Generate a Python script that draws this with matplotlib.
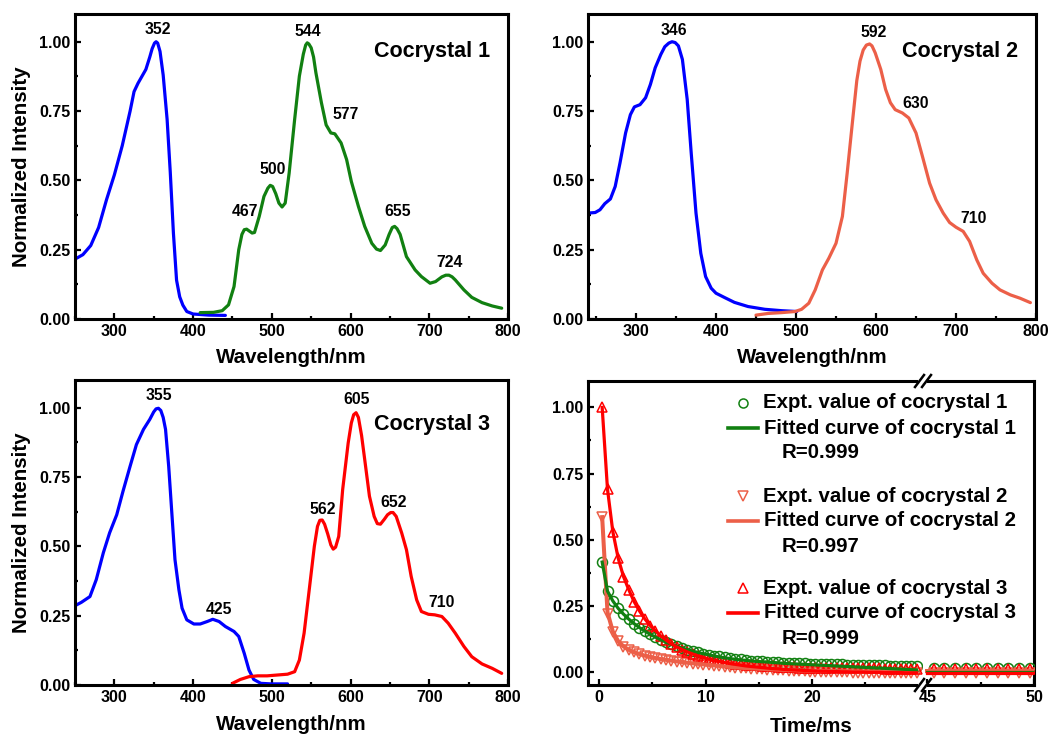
import numpy as np
import matplotlib
matplotlib.use("Agg")
import matplotlib.pyplot as plt
from matplotlib.lines import Line2D
from matplotlib.patches import Rectangle
from matplotlib.ticker import MultipleLocator, FixedLocator, FormatStrFormatter

plt.rcParams['font.family'] = ['Liberation Sans', 'DejaVu Sans']
plt.rcParams['font.weight'] = 'bold'
plt.rcParams['axes.labelweight'] = 'bold'

# ---------------- data ----------------
# Cocrystal 1
abs1_wl = [250, 260, 270, 280, 290, 300, 310, 320, 325, 330, 335, 340, 345, 348, 351, 353, 355,
           358, 362, 367, 371, 375, 379, 383, 387, 392, 400, 420, 441]
abs1_int = [0.216, 0.232, 0.265, 0.33, 0.43, 0.52, 0.625, 0.75, 0.82, 0.85, 0.875, 0.90, 0.945,
            0.975, 0.995, 1.0, 0.995, 0.965, 0.88, 0.72, 0.53, 0.31, 0.14, 0.08, 0.05, 0.027,
            0.018, 0.014, 0.013]
em1_wl = [409, 426, 437, 445, 452, 458, 462, 465, 468, 471, 475, 478, 484, 490, 495, 498, 501,
          505, 509, 513, 517, 522, 529, 535, 540, 543, 545, 547, 550, 553, 556, 563, 569, 575,
          580, 588, 595, 601, 610, 618, 627, 633, 638, 644, 649, 653, 656, 659, 663, 671, 682,
          690, 701, 708, 716, 721, 725, 729, 733, 744, 754, 767, 780, 792]
em1_int = [0.023, 0.024, 0.030, 0.051, 0.117, 0.25, 0.305, 0.322, 0.324, 0.318, 0.31, 0.312,
           0.37, 0.442, 0.472, 0.482, 0.478, 0.452, 0.418, 0.404, 0.418, 0.526, 0.72, 0.876,
           0.955, 0.988, 0.996, 0.992, 0.978, 0.945, 0.888, 0.78, 0.70, 0.671, 0.668, 0.635,
           0.575, 0.496, 0.406, 0.334, 0.273, 0.252, 0.247, 0.267, 0.305, 0.33, 0.334, 0.326,
           0.305, 0.225, 0.177, 0.153, 0.129, 0.135, 0.152, 0.158, 0.158, 0.152, 0.141, 0.105,
           0.078, 0.059, 0.047, 0.039]

# Cocrystal 2
abs2_wl = [240, 249, 255, 261, 268, 274, 280, 287, 293, 298, 305, 312, 318, 324, 331, 336, 341,
           345, 349, 353, 358, 364, 369, 375, 381, 387, 394, 400, 411, 423, 440, 461, 482, 501]
abs2_int = [0.382, 0.384, 0.394, 0.416, 0.433, 0.478, 0.563, 0.671, 0.737, 0.765, 0.773, 0.798,
            0.846, 0.906, 0.954, 0.982, 0.995, 1.0, 0.997, 0.985, 0.936, 0.792, 0.599, 0.382,
            0.237, 0.153, 0.111, 0.093, 0.077, 0.060, 0.045, 0.035, 0.030, 0.027]
em2_wl = [450, 465, 482, 499, 507, 516, 524, 533, 541, 550, 558, 564, 570, 576, 580, 584, 588,
          592, 595, 599, 606, 612, 618, 624, 633, 641, 650, 658, 667, 675, 684, 692, 700, 709,
          717, 726, 734, 745, 755, 768, 780, 793]
em2_int = [0.014, 0.020, 0.023, 0.027, 0.035, 0.057, 0.105, 0.177, 0.219, 0.273, 0.37, 0.527,
           0.695, 0.86, 0.93, 0.97, 0.988, 0.992, 0.985, 0.96, 0.90, 0.828, 0.78, 0.755, 0.743,
           0.725, 0.671, 0.587, 0.49, 0.43, 0.382, 0.348, 0.331, 0.316, 0.28, 0.213, 0.165,
           0.129, 0.105, 0.087, 0.075, 0.059]

# Cocrystal 3
abs3_wl = [250, 258, 269, 277, 286, 294, 303, 311, 320, 328, 337, 345, 350, 353, 356, 359, 362,
           365, 369, 373, 377, 382, 386, 392, 401, 409, 418, 425, 433, 441, 452, 458, 465, 471,
           477, 486, 499, 520]
abs3_int = [0.286, 0.298, 0.319, 0.38, 0.477, 0.549, 0.614, 0.699, 0.789, 0.867, 0.922, 0.958,
            0.985, 0.996, 0.998, 0.99, 0.965, 0.922, 0.789, 0.62, 0.452, 0.343, 0.277, 0.235,
            0.22, 0.22, 0.229, 0.237, 0.229, 0.211, 0.193, 0.175, 0.114, 0.054, 0.020, 0.006,
            0.004, 0.004]
em3_wl = [450, 460, 471, 482, 494, 507, 520, 529, 535, 541, 548, 554, 558, 561, 564, 567, 571,
          575, 578, 581, 585, 590, 597, 601, 604, 607, 610, 614, 618, 624, 630, 634, 638, 643,
          647, 651, 654, 658, 665, 671, 677, 684, 690, 699, 707, 716, 724, 733, 744, 754, 767,
          780, 792]
em3_int = [0.006, 0.020, 0.030, 0.033, 0.033, 0.036, 0.039, 0.048, 0.09, 0.187, 0.355, 0.50,
           0.572, 0.594, 0.595, 0.58, 0.545, 0.505, 0.49, 0.497, 0.536, 0.705, 0.873, 0.945,
           0.975, 0.982, 0.965, 0.90, 0.813, 0.681, 0.608, 0.582, 0.58, 0.598, 0.614, 0.622,
           0.622, 0.608, 0.548, 0.488, 0.392, 0.307, 0.265, 0.255, 0.253, 0.247, 0.223, 0.187,
           0.139, 0.102, 0.076, 0.060, 0.042]

# Peak labels (text) for each panel
peaks1 = ["352", "467", "500", "544", "577", "655", "724"]
peaks2 = ["346", "592", "630", "710"]
peaks3 = ["355", "425", "562", "605", "652", "710"]
titles = ["Cocrystal 1", "Cocrystal 2", "Cocrystal 3"]

# Decay data (time in ms), sampled every 0.5 ms
t_early = np.round(np.arange(0.3, 29.81, 0.5), 2)
t_late = np.round(np.arange(45.3, 49.81, 0.5), 2)
t_fit_late = [45.0, 50.0]

decay1 = [0.415, 0.305, 0.268, 0.240, 0.218, 0.199, 0.182, 0.167, 0.154, 0.142,
          0.131, 0.121, 0.112, 0.104, 0.097, 0.090, 0.084, 0.078, 0.073, 0.068,
          0.065, 0.061, 0.058, 0.055, 0.052, 0.049, 0.047, 0.045, 0.042, 0.040,
          0.039, 0.038, 0.037, 0.036, 0.035, 0.034, 0.033, 0.032, 0.032, 0.031,
          0.030, 0.030, 0.029, 0.029, 0.028, 0.028, 0.027, 0.027, 0.026, 0.026,
          0.025, 0.025, 0.024, 0.024, 0.023, 0.023, 0.022, 0.022, 0.021, 0.021]
fit1 = [0.415, 0.305, 0.268, 0.240, 0.218, 0.199, 0.182, 0.167, 0.154, 0.142,
        0.131, 0.121, 0.112, 0.104, 0.097, 0.090, 0.084, 0.078, 0.073, 0.068,
        0.064, 0.060, 0.056, 0.053, 0.050, 0.047, 0.045, 0.043, 0.041, 0.039,
        0.038, 0.037, 0.035, 0.034, 0.032, 0.031, 0.030, 0.029, 0.028, 0.027,
        0.026, 0.025, 0.024, 0.023, 0.022, 0.021, 0.020, 0.019, 0.018, 0.017,
        0.016, 0.015, 0.014, 0.013, 0.012, 0.011, 0.010, 0.009, 0.008, 0.007]
decay1_late = [0.014, 0.014, 0.014, 0.014, 0.014, 0.014, 0.014, 0.014, 0.014, 0.014]
fit1_late = [0.0, 0.0]

decay2 = [0.585, 0.220, 0.150, 0.115, 0.095, 0.082, 0.073, 0.066, 0.060, 0.055,
          0.051, 0.047, 0.044, 0.041, 0.038, 0.036, 0.033, 0.031, 0.029, 0.027,
          0.025, 0.023, 0.021, 0.019, 0.017, 0.016, 0.014, 0.013, 0.012, 0.010,
          0.009, 0.008, 0.007, 0.006, 0.005, 0.004, 0.003, 0.002, 0.002, 0.001,
          0.000, 0.000, -0.001, -0.001, -0.002, -0.002, -0.002, -0.003, -0.003, -0.003,
          -0.004, -0.004, -0.004, -0.004, -0.005, -0.005, -0.005, -0.005, -0.005, -0.005]
fit2 = [0.585, 0.225, 0.152, 0.116, 0.096, 0.083, 0.074, 0.067, 0.061, 0.056,
        0.052, 0.048, 0.045, 0.042, 0.039, 0.037, 0.034, 0.032, 0.030, 0.028,
        0.026, 0.024, 0.022, 0.020, 0.018, 0.017, 0.015, 0.014, 0.013, 0.012,
        0.011, 0.010, 0.009, 0.008, 0.007, 0.007, 0.006, 0.005, 0.005, 0.004,
        0.004, 0.003, 0.003, 0.003, 0.002, 0.002, 0.002, 0.002, 0.001, 0.001,
        0.001, 0.001, 0.001, 0.001, 0.000, 0.000, 0.000, 0.000, 0.000, 0.000]
decay2_late = [-0.006, -0.006, -0.006, -0.006, -0.006, -0.006, -0.006, -0.006, -0.006, -0.006]
fit2_late = [0.002, 0.002]

decay3 = [1.000, 0.690, 0.530, 0.430, 0.360, 0.310, 0.265, 0.230, 0.200, 0.175,
          0.155, 0.135, 0.120, 0.105, 0.094, 0.084, 0.075, 0.067, 0.060, 0.054,
          0.049, 0.044, 0.040, 0.037, 0.034, 0.031, 0.029, 0.027, 0.025, 0.024,
          0.022, 0.021, 0.020, 0.019, 0.018, 0.017, 0.017, 0.016, 0.016, 0.015,
          0.015, 0.015, 0.014, 0.014, 0.014, 0.014, 0.013, 0.013, 0.013, 0.013,
          0.013, 0.013, 0.013, 0.012, 0.012, 0.012, 0.012, 0.012, 0.012, 0.012]
fit3 = [1.000, 0.690, 0.530, 0.430, 0.360, 0.310, 0.265, 0.230, 0.200, 0.175,
        0.155, 0.135, 0.120, 0.105, 0.094, 0.084, 0.075, 0.067, 0.060, 0.054,
        0.048, 0.043, 0.039, 0.035, 0.031, 0.028, 0.025, 0.022, 0.020, 0.018,
        0.016, 0.014, 0.012, 0.011, 0.009, 0.008, 0.007, 0.006, 0.005, 0.004,
        0.003, 0.002, 0.002, 0.001, 0.001, 0.000, 0.000, -0.001, -0.001, -0.001,
        -0.002, -0.002, -0.002, -0.003, -0.003, -0.003, -0.003, -0.004, -0.004, -0.004]
decay3_late = [0.012, 0.012, 0.012, 0.012, 0.012, 0.012, 0.012, 0.012, 0.012, 0.012]
fit3_late = [-0.004, -0.004]

legend_labels = ["Expt. value of cocrystal 1", "Fitted curve of cocrystal 1", "R=0.999",
                 "Expt. value of cocrystal 2", "Fitted curve of cocrystal 2", "R=0.997",
                 "Expt. value of cocrystal 3", "Fitted curve of cocrystal 3", "R=0.999"]

# ---------------- style ----------------
BLUE = "#0000ff"
GREEN = "#118011"
CORAL = "#ec5f48"
RED = "#ff0000"
LW = 2.3
TICK_FS = 11.5
LABEL_FS = 14.8
PEAK_FS = 11.3
TITLE_FS = 15.5
LEG_FS = 14.7

W, H = 1049, 736
fig = plt.figure(figsize=(W / 100, H / 100), dpi=100)


def fax(l, t, r, b):
    return fig.add_axes([l / W, 1 - b / H, (r - l) / W, (b - t) / H])


def style(ax):
    for s in ax.spines.values():
        s.set_linewidth(2.2)
    ax.tick_params(which='both', direction='in', top=False, right=False,
                   labelsize=TICK_FS, width=1.6, pad=3.5)
    ax.tick_params(which='major', length=4)
    ax.tick_params(which='minor', length=2.5)
    for lab in ax.get_xticklabels() + ax.get_yticklabels():
        lab.set_fontweight('bold')


def spectrum_panel(ax, xlim, curves, peaks, peak_pos, title, title_pos, ylabel, xpad):
    for wl, it, c in curves:
        ax.plot(wl, it, color=c, lw=LW, solid_capstyle='round', solid_joinstyle='round')
    ax.set_xlim(*xlim)
    ax.set_ylim(0, 1.10)
    ax.xaxis.set_major_locator(MultipleLocator(100))
    ax.xaxis.set_minor_locator(MultipleLocator(50))
    ax.yaxis.set_major_locator(MultipleLocator(0.25))
    ax.yaxis.set_minor_locator(MultipleLocator(0.125))
    ax.yaxis.set_major_formatter(FormatStrFormatter('%.2f'))
    style(ax)
    for lab, (x, y) in zip(peaks, peak_pos):
        ax.text(x, y, lab, ha='center', va='center', fontsize=PEAK_FS, fontweight='bold')
    ax.text(title_pos[0], title_pos[1], title, ha='center', va='center',
            fontsize=TITLE_FS, fontweight='bold')
    ax.set_xlabel("Wavelength/nm", fontsize=LABEL_FS, fontweight='bold', labelpad=xpad)
    if ylabel:
        ax.set_ylabel("Normalized Intensity", fontsize=LABEL_FS, fontweight='bold', labelpad=6)


ax1 = fax(75, 14, 508, 319)
spectrum_panel(ax1, (250, 800), [(abs1_wl, abs1_int, BLUE), (em1_wl, em1_int, GREEN)],
               peaks1, [(355, 1.045), (466, 0.386), (501, 0.538), (546, 1.038), (594, 0.736),
                        (660, 0.386), (726, 0.202)],
               titles[0], (704, 0.964), True, 6.5)

ax2 = fax(588, 14, 1036, 319)
spectrum_panel(ax2, (240, 800), [(abs2_wl, abs2_int, BLUE), (em2_wl, em2_int, CORAL)],
               peaks2, [(348, 1.04), (597, 1.035), (649, 0.776), (722, 0.364)],
               titles[1], (705, 0.964), False, 6.5)

ax3 = fax(75, 380, 508, 685)
spectrum_panel(ax3, (250, 800), [(abs3_wl, abs3_int, BLUE), (em3_wl, em3_int, RED)],
               peaks3, [(357, 1.045), (433, 0.271), (565, 0.632), (608, 1.028), (655, 0.657),
                        (716, 0.296)],
               titles[2], (703, 0.939), True, 7)

# ---------------- decay panel with broken axis ----------------
axL = fax(588, 381, 923, 685)
axR = fax(923, 381, 1034, 685)

MS = 7.2
for ax, tt, tf, d1, f1, d2, f2, d3, f3 in [
        (axL, t_early, t_early, decay1, fit1, decay2, fit2, decay3, fit3),
        (axR, t_late, t_fit_late, decay1_late, fit1_late, decay2_late, fit2_late,
         decay3_late, fit3_late)]:
    ax.plot(tt, d1, 'o', ms=MS, mfc='none', mec=GREEN, mew=1.1, zorder=3)
    ax.plot(tt, d2, 'v', ms=MS + 0.6, mfc='none', mec=CORAL, mew=1.1, zorder=3)
    ax.plot(tt, d3, '^', ms=MS + 0.6, mfc='none', mec=RED, mew=1.1, zorder=3)
    ax.plot(tf, f2, '-', color=CORAL, lw=LW + 0.6, zorder=4)
    ax.plot(tf, f1, '-', color=GREEN, lw=LW, zorder=5)
    ax.plot(tf, f3, '-', color=RED, lw=LW, zorder=6)
    ax.set_ylim(-0.05, 1.10)

axL.set_xlim(-1.03, 30.4)
axR.set_xlim(44.8, 50)
axL.xaxis.set_major_locator(FixedLocator([0, 10, 20]))
axL.xaxis.set_minor_locator(FixedLocator([5, 15, 25]))
axL.yaxis.set_major_locator(MultipleLocator(0.25))
axL.yaxis.set_minor_locator(MultipleLocator(0.125))
axL.yaxis.set_major_formatter(FormatStrFormatter('%.2f'))
axR.xaxis.set_major_locator(FixedLocator([45, 50]))
axR.xaxis.set_minor_locator(FixedLocator([47.5]))
axR.set_yticks([])
style(axL)
style(axR)
axL.spines['right'].set_visible(False)
axR.spines['left'].set_visible(False)
axR.tick_params(axis='y', left=False, labelleft=False)

fig.text(811 / W, 1 - 726 / H, "Time/ms", ha='center', va='center',
         fontsize=LABEL_FS, fontweight='bold')

# break marks
for yc in (381, 685):
    fig.add_artist(Rectangle((918 / W, 1 - (yc + 2) / H), 9 / W, 4 / H,
                             transform=fig.transFigure, facecolor='white',
                             edgecolor='none', zorder=10))
    for dx in (-3.5, 3.5):
        xc = 923 + dx
        fig.add_artist(Line2D([(xc - 4.5) / W, (xc + 4.5) / W],
                              [1 - (yc + 6) / H, 1 - (yc - 6) / H],
                              transform=fig.transFigure, color='black', lw=1.8, zorder=11))

# legend (drawn manually)
row_y = [403, 428, 453, 496, 521, 547, 588, 613, 638]
handles = [('o', GREEN), ('-', GREEN), (None, None),
           ('v', CORAL), ('-', CORAL), (None, None),
           ('^', RED), ('-', RED), (None, None)]
for (kind, col), lab, y in zip(handles, legend_labels, row_y):
    yf = 1 - y / H
    if kind == '-':
        fig.add_artist(Line2D([728 / W, 758 / W], [yf, yf], transform=fig.transFigure,
                              color=col, lw=LW + 0.3, zorder=12))
        fig.text(764 / W, yf, lab, ha='left', va='center', fontsize=LEG_FS,
                 fontweight='bold', zorder=12)
    elif kind is None:
        fig.text(782 / W, yf, lab, ha='left', va='center', fontsize=LEG_FS,
                 fontweight='bold', zorder=12)
    else:
        fig.add_artist(Line2D([743 / W], [yf], transform=fig.transFigure, marker=kind,
                              ms=6.5, mfc='none', mec=col, mew=1.1, ls='none', zorder=12))
        fig.text(763 / W, yf, lab, ha='left', va='center', fontsize=LEG_FS,
                 fontweight='bold', zorder=12)

fig.savefig("out.png", dpi=100)
